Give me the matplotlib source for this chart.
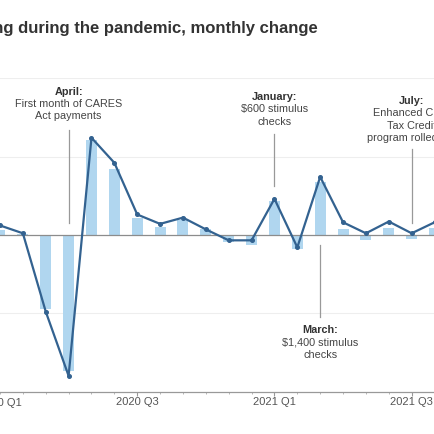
import numpy as np
import matplotlib
matplotlib.use("Agg")
import matplotlib.pyplot as plt

plt.rcParams['font.family'] = ['Liberation Sans', 'DejaVu Sans']

# data: monthly change, Jan 2020 .. Aug 2021 (index 0 = Jan 2020)
months = np.arange(20)
bar_values = [0.3, 0.05, -4.75, -8.7, 6.05, 4.2, 1.05, 0.5, 0.95, 0.4,
              -0.45, -0.65, 2.15, -0.9, 3.35, 0.4, -0.35, 0.45, -0.25, 0.45]
line_values = [0.6, 0.1, -4.9, -9.0, 6.2, 4.6, 1.3, 0.7, 1.1, 0.35,
               -0.35, -0.35, 2.3, -0.8, 3.7, 0.8, 0.1, 0.85, 0.1, 0.8]
tick_pos = [0, 6, 12, 18]
tick_labels = ['2020 Q1', '2020 Q3', '2021 Q1', '2021 Q3']

bar_color = '#b0d6ef'
line_color = '#336290'
text_color = '#444444'

fig = plt.figure(figsize=(4.35, 4.35), dpi=100)
ax = fig.add_axes([0, 42.5 / 435, 1, 313.3 / 435])

ax.bar(months, bar_values, width=0.48, color=bar_color, zorder=2)
ax.plot(months, line_values, color=line_color, lw=1.6, marker='o', ms=2.6, zorder=4)

ax.set_xlim(0.646, 19.02)
ax.set_ylim(-10, 10)

# grid
for gy in [-5, 5, 10]:
    ax.axhline(gy, color='#eeeeee', lw=0.8, zorder=0)
ax.axhline(0, color='#8c8c8c', lw=0.9, zorder=3)

for s in ['top', 'right', 'left']:
    ax.spines[s].set_visible(False)
ax.spines['bottom'].set_color('#999999')
ax.spines['bottom'].set_linewidth(0.9)
ax.set_yticks([])

ax.set_xticks(tick_pos[1:])
ax.set_xticklabels(tick_labels[1:])
ax.set_xticks(months, minor=True)
ax.tick_params(axis='x', which='major', length=3, color='#999999',
               labelsize=8, labelcolor='#555555', pad=0.5)
ax.tick_params(axis='x', which='minor', length=1.6, color='#aaaaaa')
ax.text(tick_pos[0], -10.67, tick_labels[0], ha='center', va='center',
        fontsize=8, color='#555555', clip_on=False)


def note(x, y, label, lines, y0, y1):
    step = 0.79
    ax.text(x, y, label, ha='center', va='center', fontsize=7.8,
            fontweight='bold', color='#333333', zorder=5)
    for k, t in enumerate(lines):
        ax.text(x, y - step * (k + 1), t, ha='center', va='center',
                fontsize=7.8, color=text_color, zorder=5, clip_on=False)
    ax.plot([x, x], [y0, y1], color='#999999', lw=0.9, zorder=1)


note(3, 9.2, 'April:', ['First month of CARES', 'Act payments'], 6.68, 0.74)
note(12, 8.86, 'January:', ['$600 stimulus', 'checks'], 6.43, 3.12)
note(18, 8.62, 'July:', ['Enhanced Child', 'Tax Credit', 'program rolled out'], 5.5, 0.78)
note(14, -6.04, 'March:', ['$1,400 stimulus', 'checks'], -0.67, -5.26)

fig.text(318 / 435, 1 - 28 / 435, 'Spending during the pandemic, monthly change',
         ha='right', va='center', fontsize=12, fontweight='bold', color='#333333')

fig.savefig('out.png', dpi=100)
